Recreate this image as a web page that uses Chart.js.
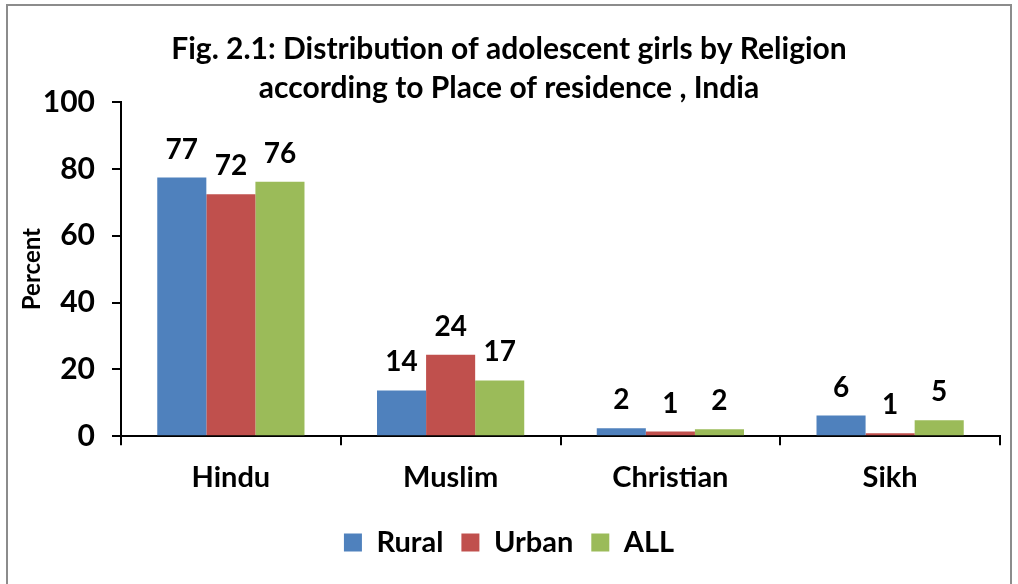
<!DOCTYPE html>
<html>
<head>
<meta charset="utf-8">
<script src="https://cdn.jsdelivr.net/npm/chart.js@4"></script>
<style>
  html, body { margin: 0; padding: 0; background: #fff; }
  #frame {
    position: absolute; left: 6px; top: 4px;
    width: 1006px; height: 600px;
    border: 2px solid #8c8c8c; box-sizing: border-box;
  }
  #box { position: absolute; left: 2px; top: 2px; width: 1000px; height: 578px; }
</style>
</head>
<body>
<div id="frame"><div id="box"><canvas id="myChart"></canvas></div></div>
<script>
const religions = ['Hindu', 'Muslim', 'Christian', 'Sikh'];
const rural = [77.4, 13.7, 2.4, 6.2];
const urban = [72.4, 24.4, 1.4, 0.9];
const all = [76.1, 16.7, 2.1, 4.8];
const yTicks = [0, 20, 40, 60, 80, 100];

const font = "Lato, 'Open Sans', sans-serif";

// writes the rounded value above each bar
const barLabels = {
  id: 'barLabels',
  afterDatasetsDraw(chart) {
    const ctx = chart.ctx;
    ctx.save();
    ctx.font = 'bold 28px ' + font;
    ctx.fillStyle = '#000';
    ctx.textAlign = 'center';
    ctx.textBaseline = 'bottom';
    chart.data.datasets.forEach((ds, i) => {
      chart.getDatasetMeta(i).data.forEach((bar, j) => {
        ctx.fillText(Math.round(ds.data[j]), bar.x, bar.y - 14);
      });
    });
    ctx.restore();
  }
};

const data = {
  labels: religions,
  datasets: [{
    label: 'Rural',
    backgroundColor: '#4F81BD',
    data: rural,
  }, {
    label: 'Urban',
    backgroundColor: '#C0504D',
    data: urban,
  }, {
    label: 'ALL',
    backgroundColor: '#9BBB59',
    data: all,
  }]
};

const config = {
  type: 'bar',
  data: data,
  plugins: [barLabels],
  options: {
    responsive: true,
    maintainAspectRatio: false,
    animation: false,
    categoryPercentage: 0.67,
    barPercentage: 1.0,
    layout: { padding: { left: 8, right: 10, top: 0, bottom: 19 } },
    plugins: {
      tooltip: { enabled: false },
      title: {
        display: true,
        text: ['Fig. 2.1: Distribution of adolescent girls by Religion',
               'according to Place of residence , India'],
        color: '#000',
        font: { family: font, size: 30, weight: 'bold', lineHeight: 1.3 },
        padding: { top: 22, bottom: -6 }
      },
      legend: {
        position: 'bottom',
        labels: {
          color: '#000',
          font: { family: font, size: 29, weight: 'bold' },
          boxWidth: 18,
          boxHeight: 18,
          padding: 18
        }
      }
    },
    scales: {
      x: {
        grid: {
          offset: true,
          drawOnChartArea: false,
          color: '#000',
          tickLength: 9,
          lineWidth: 2
        },
        border: { color: '#000', width: 2 },
        ticks: {
          color: '#000',
          font: { family: font, size: 29, weight: 'bold' },
          padding: 15
        }
      },
      y: {
        min: 0,
        max: 100,
        afterBuildTicks: axis => { axis.ticks = yTicks.map(v => ({ value: v })); },
        afterFit: axis => { axis.width = 103; },
        grid: {
          drawOnChartArea: false,
          color: '#000',
          tickLength: 9,
          lineWidth: 2
        },
        border: { color: '#000', width: 2 },
        ticks: {
          color: '#000',
          font: { family: font, size: 30, weight: 'bold' },
          padding: 17
        },
        title: {
          display: true,
          text: 'Percent',
          color: '#000',
          font: { family: font, size: 24, weight: 'bold' },
          padding: { top: 0, bottom: 2 }
        }
      }
    }
  }
};

let myChart = document.getElementById('myChart').getContext('2d');
let barChart = new Chart(myChart, config);
</script>
</body>
</html>
